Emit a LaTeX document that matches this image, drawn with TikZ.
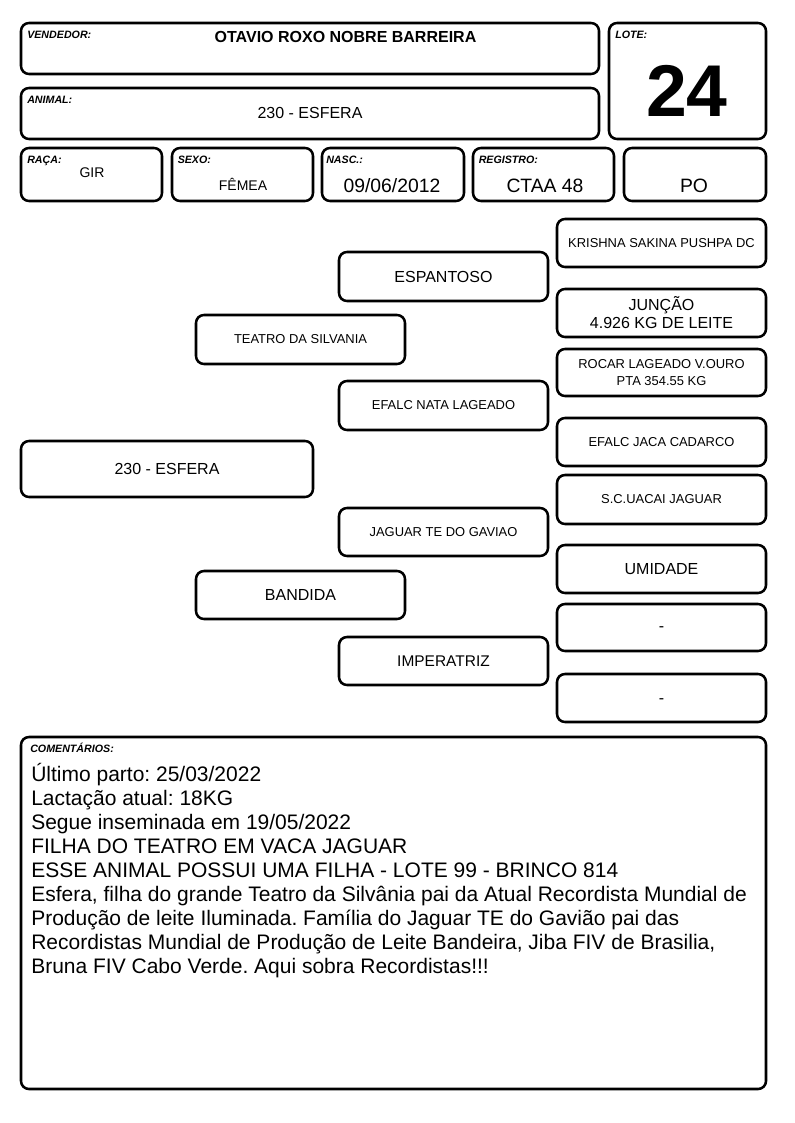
\documentclass[tikz,border=0pt]{standalone}
\usepackage{fontspec}
\setmainfont{Liberation Sans}
\usetikzlibrary{fit}
\frenchspacing
\begin{document}
\begin{tikzpicture}[x=0.75pt,y=-0.75pt,
  box/.style={draw, line width=1.9pt, rounded corners=6pt, inner sep=0pt},
  txt/.style={inner sep=0pt, align=center},
  lbl/.style={anchor=base west, inner sep=0pt, font=\fontsize{8}{9}\selectfont\bfseries\itshape},
  hval/.style={inner sep=0pt, font=\fontsize{10.5}{12}\selectfont},
  bval/.style={inner sep=0pt, font=\fontsize{14.5}{16}\selectfont},
  big/.style={font=\fontsize{12}{14}\selectfont},
  small/.style={font=\fontsize{9.7}{12.75}\selectfont}]
\useasboundingbox (0,0) rectangle (794,1123);
% header boxes
\node[box, fit={(21,23)(599,74)}] (vend) {};
\node[box, fit={(21,88)(599,139)}] (anim) {};
\node[box, fit={(609,23)(766,139)}] (lote) {};
\node[box, fit={(21,148)(162,201)}] (raca) {};
\node[box, fit={(172,148)(313,201)}] (sexo) {};
\node[box, fit={(322,148)(464,201)}] (nasc) {};
\node[box, fit={(473,148)(614,201)}] (reg) {};
\node[box, fit={(624,148)(766,201)}] (po) {};
% labels
\node[lbl] (lvend) at (27,39) {VENDEDOR:};
\node[lbl] (lanim) at (27,103.5) {ANIMAL:};
\node[lbl] (llote) at (615,39) {LOTE:};
\node[lbl] (lraca) at (27,163.5) {RAÇA:};
\node[lbl] (lsexo) at (177.5,163.5) {SEXO:};
\node[lbl] (lnasc) at (326,163.5) {NASC.:};
\node[lbl] (lreg) at (478.5,163.5) {REGISTRO:};
% values
\node[inner sep=0pt, font=\fontsize{12}{14}\selectfont\bfseries] (vvend) at (345.5,37) {OTAVIO ROXO NOBRE BARREIRA};
\node[txt, big] (vanim) at (310,113) {230 - ESFERA};
\node[inner sep=0pt, font=\fontsize{55}{60}\selectfont\bfseries] (vlote) at (687,91) {24};
\node[hval] (vraca) at (92,172.5) {GIR};
\node[hval] (vsexo) at (243,184) {FÊMEA};
\node[bval] (vnasc) at (392,186) {09/06/2012};
\node[bval] (vreg) at (545,186) {CTAA 48};
\node[bval] (vpo) at (694,186) {PO};
% pedigree boxes
\node[box, fit={(21,441)(313,497)}] (p0) {};
\node[box, fit={(196,315)(405,364)}] (p1) {};
\node[box, fit={(196,571)(405,619)}] (p2) {};
\node[box, fit={(339,252)(548,301)}] (p3) {};
\node[box, fit={(339,381)(548,430)}] (p4) {};
\node[box, fit={(339,508)(548,556)}] (p5) {};
\node[box, fit={(339,637)(548,685)}] (p6) {};
\node[box, fit={(557,219)(766,267)}] (p7) {};
\node[box, fit={(557,289)(766,337)}] (p8) {};
\node[box, fit={(557,349)(766,396)}] (p9) {};
\node[box, fit={(557,418)(766,466)}] (p10) {};
\node[box, fit={(557,475)(766,524)}] (p11) {};
\node[box, fit={(557,545)(766,593)}] (p12) {};
\node[box, fit={(557,604)(766,651)}] (p13) {};
\node[box, fit={(557,674)(766,722)}] (p14) {};
% pedigree texts
\node[txt, big] (t0) at (p0.center) {230 - ESFERA};
\node[txt, small] (t1) at (p1.center) {TEATRO DA SILVANIA};
\node[txt, big] (t2) at (p2.center) {BANDIDA};
\node[txt, big] (t3) at (p3.center) {ESPANTOSO};
\node[txt, small] (t4) at (p4.center) {EFALC NATA LAGEADO};
\node[txt, small] (t5) at (p5.center) {JAGUAR TE DO GAVIAO};
\node[txt, font=\fontsize{11.6}{14}\selectfont] (t6) at (p6.center) {IMPERATRIZ};
\node[txt, small] (t7) at (p7.center) {KRISHNA SAKINA PUSHPA DC};
\node[txt, font=\fontsize{12}{13.5}\selectfont] (t8) at (p8.center) {JUNÇÃO\\4.926 KG DE LEITE};
\node[txt, small] (t9) at (p9.center) {ROCAR LAGEADO V.OURO\\PTA 354.55 KG};
\node[txt, small] (t10) at (p10.center) {EFALC JACA CADARCO};
\node[txt, small] (t11) at (p11.center) {S.C.UACAI JAGUAR};
\node[txt, big] (t12) at (p12.center) {UMIDADE};
\node[txt, big, yshift=-1.5pt] (t13) at (p13.center) {-};
\node[txt, big, yshift=-2.5pt] (t14) at (p14.center) {-};
% comments
\node[box, fit={(21,737)(766,1089)}] (com) {};
\node[lbl] (lcom) at (30,752.5) {COMENTÁRIOS:};
\node[anchor=north west, inner sep=0pt, align=left, font=\fontsize{15.75}{18}\selectfont] (tcom) at (31,763) {Último parto: 25/03/2022\\
Lactação atual: 18KG\\
Segue inseminada em 19/05/2022\\
FILHA DO TEATRO EM VACA JAGUAR\\
ESSE ANIMAL POSSUI UMA FILHA - LOTE 99 - BRINCO 814\\
Esfera, filha do grande Teatro da Silvânia pai da Atual Recordista Mundial de\\
Produção de leite Iluminada. Família do Jaguar TE do Gavião pai das\\
Recordistas Mundial de Produção de Leite Bandeira, Jiba FIV de Brasilia,\\
Bruna FIV Cabo Verde. Aqui sobra Recordistas!!!};
\end{tikzpicture}
\end{document}
